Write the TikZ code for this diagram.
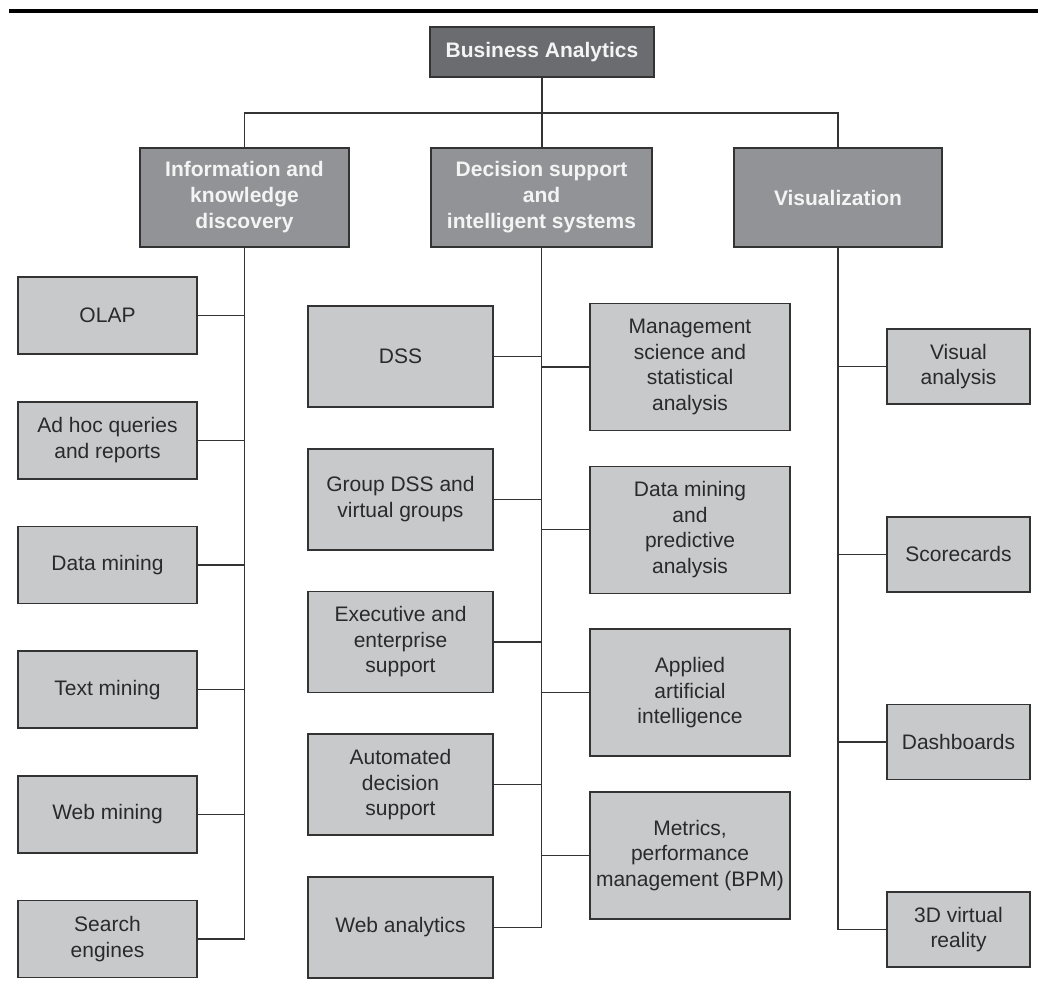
\documentclass[tikz,border=0pt]{standalone}
\usepackage{fontspec}
\setmainfont{Liberation Sans}
\definecolor{topfill}{HTML}{6B6C70}
\definecolor{headfill}{HTML}{929396}
\definecolor{leaffill}{HTML}{C8C9CB}
\definecolor{edge}{HTML}{333333}
\definecolor{leaftext}{HTML}{2A2A2A}
\definecolor{headtext}{HTML}{F4F4F4}
\begin{document}
\begin{tikzpicture}[x=1pt,y=-1pt,
  box/.style={draw=edge, line width=1.6pt, inner sep=0pt, align=center},
  topbox/.style={box, fill=topfill, text=headtext, font=\bfseries\fontsize{21}{26}\selectfont, minimum width=224pt, minimum height=50pt},
  headbox/.style={box, fill=headfill, text=headtext, font=\bfseries\fontsize{21}{26}\selectfont, minimum height=99pt},
  leafbox/.style={box, fill=leaffill, text=leaftext, font=\fontsize{21}{25.5}\selectfont},
  lbox/.style={leafbox, minimum width=179pt, minimum height=77pt},
  cbox/.style={leafbox, minimum width=185pt, minimum height=101pt},
  rbox/.style={leafbox, minimum width=200pt, minimum height=127pt},
  vbox/.style={leafbox, minimum width=143pt, minimum height=75pt},
  link/.style={draw=edge, line width=1.3pt},
  rulestyle/.style={draw=black, line width=3.5pt}
]
\useasboundingbox (0,0) rectangle (1038,990);

% top rule
\coordinate (ruleL) at (9,11);
\coordinate (ruleR) at (1038,11);
\draw[rulestyle] (ruleL) -- (ruleR);

% top and header nodes
\node[topbox] (ba) at (542,52) {Business Analytics};
\node[headbox, minimum width=209pt] (info) at (244.5,197.5) {Information and\\knowledge\\discovery};
\node[headbox, minimum width=221pt] (dsis) at (541.5,197.5) {Decision support\\and\\intelligent systems};
\node[headbox, minimum width=208pt] (vis) at (838,197.5) {Visualization};

% left column
\node[lbox] (olap) at (107.5,315.5) {OLAP};
\node[lbox] (adhoc) at (107.5,440.2) {Ad hoc queries\\and reports};
\node[lbox] (dmine) at (107.5,564.9) {Data mining};
\node[lbox] (tmine) at (107.5,689.6) {Text mining};
\node[lbox] (wmine) at (107.5,814.3) {Web mining};
\node[lbox] (search) at (107.5,939) {Search\\engines};

% center-left column
\node[cbox] (dss) at (400.5,356.5) {DSS};
\node[cbox] (gdss) at (400.5,499.2) {Group DSS and\\virtual groups};
\node[cbox] (exec) at (400.5,642) {Executive and\\enterprise\\support};
\node[cbox] (auto) at (400.5,784.7) {Automated\\decision\\support};
\node[cbox] (weba) at (400.5,927.5) {Web analytics};

% center-right column
\node[rbox] (mgmt) at (690,367) {Management\\science and\\statistical\\analysis};
\node[rbox] (dmpa) at (690,529.8) {Data mining\\and\\predictive\\analysis};
\node[rbox] (aai) at (690,692.6) {Applied\\artificial\\intelligence};
\node[rbox] (bpm) at (690,855.4) {Metrics,\\performance\\management (BPM)};

% right column
\node[vbox] (vana) at (958.5,366.5) {Visual\\analysis};
\node[vbox] (score) at (958.5,554.2) {Scorecards};
\node[vbox] (dash) at (958.5,741.9) {Dashboards};
\node[vbox] (vr) at (958.5,929.6) {3D virtual\\reality};

% top-level connectors
\coordinate (busL) at (244.5,113);
\draw[link] (ba.south) -- (ba.south |- dsis.north);
\draw[link] (info.north) -- (busL) -| (vis.north);

% trunks
\draw[link] (info.south) -- (info.south |- search.east);
\draw[link] (dsis.south) -- (dsis.south |- weba.east);
\draw[link] (vis.south) -- (vis.south |- vr.west);

% left branches
\foreach \n in {olap,adhoc,dmine,tmine,wmine,search}
  \draw[link] (\n.east) -- (\n.east -| info.south);
% center-left branches
\foreach \n in {dss,gdss,exec,auto,weba}
  \draw[link] (\n.east) -- (\n.east -| dsis.south);
% center-right branches
\foreach \n in {mgmt,dmpa,aai,bpm}
  \draw[link] (\n.west) -- (\n.west -| dsis.south);
% right branches
\foreach \n in {vana,score,dash,vr}
  \draw[link] (\n.west) -- (\n.west -| vis.south);
\end{tikzpicture}
\end{document}
